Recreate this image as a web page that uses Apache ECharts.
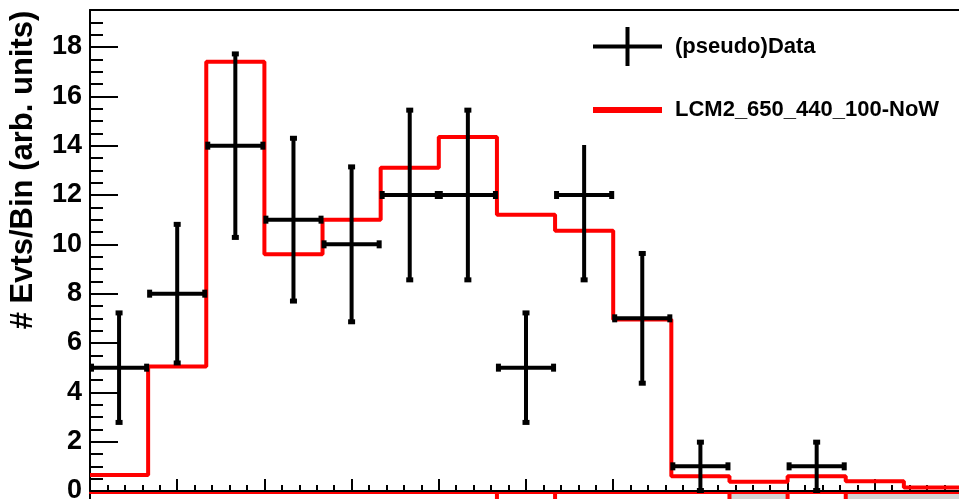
<!DOCTYPE html>
<html>
<head>
<meta charset="utf-8">
<title>Evts/Bin</title>
<script src="https://cdn.jsdelivr.net/npm/echarts@6/dist/echarts.min.js"></script>
<style>
  html, body { margin: 0; padding: 0; background: #fff; }
  #chart { width: 959px; height: 499px; }
</style>
</head>
<body>
<div id="chart"></div>
<script>
// bin edges (arbitrary x units, 15 bins)
const binEdges = [0, 100, 200, 300, 400, 500, 600, 700, 800, 900, 1000, 1100, 1200, 1300, 1400, 1500];
// LCM2_650_440_100-NoW expectation per bin
const modelValues = [0.65, 5.05, 17.4, 9.6, 11.0, 13.1, 14.35, 11.2, 10.55, 6.95, 0.6, 0.38, 0.6, 0.4, 0.14];
// (pseudo)Data counts and their error bars (null = empty bin)
const dataCounts = [5, 8, 14, 11, 10, 12, 12, 5, 12, 7, 1, null, 1, null, null];
const dataErrors = [2.24, 2.83, 3.74, 3.32, 3.16, 3.46, 3.46, 2.24, 3.46, 2.65, 1, null, 1, null, null];
// strip of the lower pad visible under the frame
const stripGrayBins = [[1100, 1200], [1300, 1500]];
const stripRedEdges = [700, 800, 1100, 1200, 1300];

const FONT = '"Liberation Sans", Arial, Helvetica, sans-serif';

const modelSteps = modelValues.map((v, i) => [binEdges[i], v]);
modelSteps.push([binEdges[binEdges.length - 1], modelValues[modelValues.length - 1]]);

const dataPoints = [];
dataCounts.forEach((n, i) => {
  if (n === null) return;
  const lo = binEdges[i];
  const hi = binEdges[i + 1];
  dataPoints.push([(lo + hi) / 2, n, dataErrors[i], (hi - lo) / 2]);
});

const renderDataPoint = (params, api) => {
  const xc = api.value(0);
  const y = api.value(1);
  const err = api.value(2);
  const hw = api.value(3);
  const left = api.coord([xc - hw, y]);
  const right = api.coord([xc + hw, y]);
  const top = api.coord([xc, y + err]);
  const bot = api.coord([xc, y - err]);
  const stroke = { stroke: '#000', lineWidth: 4 };
  const fill = { fill: '#000' };
  return {
    type: 'group',
    children: [
      { type: 'line', shape: { x1: left[0], y1: left[1], x2: right[0], y2: right[1] }, style: stroke },
      { type: 'line', shape: { x1: top[0], y1: top[1], x2: bot[0], y2: bot[1] }, style: stroke },
      { type: 'rect', shape: { x: top[0] - 3.5, y: top[1] - 2, width: 7, height: 5 }, style: fill },
      { type: 'rect', shape: { x: bot[0] - 3.5, y: bot[1] - 3, width: 7, height: 5 }, style: fill },
      { type: 'rect', shape: { x: left[0] - 1, y: left[1] - 4, width: 5, height: 8 }, style: fill },
      { type: 'rect', shape: { x: right[0] - 4, y: right[1] - 4, width: 5, height: 8 }, style: fill },
    ],
  };
};

const legendText = { fontFamily: FONT, fontWeight: 'bold', fontSize: 22, color: '#000', padding: [0, 0, 0, 8] };
const hiddenAxisParts = { axisTick: { show: false }, axisLabel: { show: false }, splitLine: { show: false } };

const chart = echarts.init(document.getElementById('chart'));
chart.setOption({
  animation: false,
  backgroundColor: '#fff',
  grid: [
    { left: 90, right: -3, top: 10, bottom: 8, outerBoundsMode: 'none' },
    { left: 90, right: -3, top: 493, bottom: 0, outerBoundsMode: 'none' },
  ],
  legend: [
    {
      left: 593, top: 27, padding: 0, itemWidth: 69, itemHeight: 39, selectedMode: false, z: 6,
      textStyle: legendText,
      data: [{ name: '(pseudo)Data', icon: 'path://M0,17.5H69V21.5H0Z M32.5,0H36.5V39H32.5Z' }],
    },
    {
      // white legend box, hides the top of the error bar behind it
      left: 570, top: 12, padding: [87, 40, 24, 23], itemWidth: 69, itemHeight: 6, selectedMode: false, z: 5,
      backgroundColor: '#fff',
      textStyle: legendText,
      data: [{ name: 'LCM2_650_440_100-NoW', icon: 'rect' }],
    },
  ],
  xAxis: [
    {
      type: 'value', gridIndex: 0, min: 0, max: 1500, interval: 150,
      axisLine: { onZero: false, lineStyle: { color: '#000', width: 2 } },
      axisTick: { inside: true, length: 12, lineStyle: { color: '#000', width: 2 } },
      minorTick: { show: true, splitNumber: 5, length: 6, lineStyle: { color: '#000', width: 2 } },
      axisLabel: { show: false },
      splitLine: { show: false },
    },
    {
      // top frame line
      type: 'value', gridIndex: 0, min: 0, max: 1500, position: 'top',
      axisLine: { onZero: false, lineStyle: { color: '#000', width: 2 } },
      ...hiddenAxisParts,
    },
    {
      type: 'value', gridIndex: 1, min: 0, max: 1500, position: 'top',
      axisLine: { onZero: false, lineStyle: { color: '#ff0000', width: 2 } },
      ...hiddenAxisParts,
    },
  ],
  yAxis: [
    {
      type: 'value', gridIndex: 0, position: 'left', min: 0, max: 19.5, interval: 2,
      axisLine: { show: true, onZero: false, lineStyle: { color: '#000', width: 2 } },
      axisTick: { inside: true, length: 28, lineStyle: { color: '#000', width: 2 } },
      axisLabel: {
        showMaxLabel: false, margin: 8, color: '#000',
        fontFamily: FONT, fontWeight: 'bold', fontSize: 27,
      },
      splitLine: { show: false },
    },
    {
      type: 'value', gridIndex: 0, position: 'left', min: 0, max: 19.5, interval: 0.5,
      axisLine: { show: false, onZero: false },
      axisTick: { inside: true, length: 13, lineStyle: { color: '#000', width: 2 } },
      axisLabel: { show: false },
      splitLine: { show: false },
    },
    {
      type: 'value', gridIndex: 1, min: 0, max: 1,
      axisLine: { show: true, onZero: false, lineStyle: { color: '#000', width: 2 } },
      ...hiddenAxisParts,
    },
  ],
  graphic: [
    {
      type: 'text', x: 23, y: 170, rotation: Math.PI / 2,
      style: {
        text: '# Evts/Bin (arb. units)', fill: '#000',
        fontFamily: FONT, fontWeight: 'bold', fontSize: 31,
        align: 'center', verticalAlign: 'middle',
      },
    },
  ],
  series: [
    {
      name: 'LCM2_650_440_100-NoW',
      type: 'line', xAxisIndex: 0, yAxisIndex: 0,
      step: 'end', symbol: 'none', z: 2,
      color: '#ff0000',
      lineStyle: { color: '#ff0000', width: 4 },
      data: modelSteps,
    },
    {
      name: '(pseudo)Data',
      type: 'custom', xAxisIndex: 0, yAxisIndex: 0, z: 3,
      itemStyle: { color: '#000' },
      renderItem: renderDataPoint,
      data: dataPoints,
    },
    {
      name: 'strip-gray',
      type: 'custom', xAxisIndex: 2, yAxisIndex: 2, z: 1, silent: true,
      renderItem: (params, api) => {
        const a = api.coord([api.value(0), 1]);
        const b = api.coord([api.value(1), 0]);
        return { type: 'rect', shape: { x: a[0], y: a[1] + 1, width: b[0] - a[0], height: b[1] - a[1] }, style: { fill: '#d4d4d4' } };
      },
      data: stripGrayBins,
    },
    {
      name: 'strip-red',
      type: 'custom', xAxisIndex: 2, yAxisIndex: 2, z: 2, silent: true,
      renderItem: (params, api) => {
        const a = api.coord([api.value(0), 1]);
        const b = api.coord([api.value(0), 0]);
        return { type: 'line', shape: { x1: a[0], y1: a[1], x2: b[0], y2: b[1] }, style: { stroke: '#ff0000', lineWidth: 4 } };
      },
      data: stripRedEdges.map((x) => [x]),
    },
  ],
});

window.addEventListener('resize', () => chart.resize());
</script>
</body>
</html>
